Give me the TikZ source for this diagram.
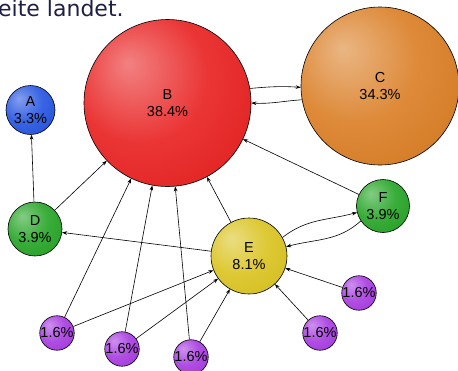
\documentclass[tikz,border=0pt]{standalone}
\usepackage{fontspec}
\newfontfamily\ballfont{Liberation Sans}
\newfontfamily\slidefont{DejaVu Sans}
\usetikzlibrary{arrows.meta, positioning}
\usepackage{xcolor}
\definecolor{ballBlue}{HTML}{1E4FE0}
\definecolor{ballRed}{HTML}{E81A1A}
\definecolor{ballOrange}{HTML}{D97A1E}
\definecolor{ballGreen}{HTML}{1FA21F}
\definecolor{ballYellow}{HTML}{D9C21A}
\definecolor{ballPurple}{HTML}{A536E0}
\definecolor{slideText}{HTML}{1F1F45}
\colorlet{ballbase}{ballRed}
\pgfdeclareradialshading[ballbase]{softball}{\pgfqpoint{-12bp}{12bp}}{%
  color(0bp)=(ballbase!55!white);
  color(20bp)=(ballbase!88!white);
  color(45bp)=(ballbase!95!black);
  color(65bp)=(ballbase!85!black)}
\tikzstyle{pnode} = [%
  circle,
  draw=black,
  line width=0.6pt,
  shading=softball,
  align=center,
  text=black,
  inner sep=0pt,
  font=\ballfont\fontsize{14.5}{17}\selectfont
]

\begin{document}
\begin{tikzpicture}[%
  x=1pt, y=1pt,
  ball/.style={/utils/exec={\colorlet{ballbase}{#1}}},
  link/.style={%
    -{Stealth[length=5pt,width=3.6pt]},
    line width=0.6pt
  }
]
  \useasboundingbox (0,0) rectangle (458,-370);

  % Slide text
  \node[anchor=base west,inner sep=0pt,text=slideText,font=\slidefont\fontsize{22}{26}\selectfont] (caption) at (-2,-16) {eite landet.};

  % Nodes
  \node[pnode,ball=ballRed,minimum size=167pt] (B) at (167.5,-103) {B\\38.4\%};
  \node[pnode,ball=ballOrange,minimum size=158pt] (C) at (380,-86) {C\\34.3\%};
  \node[pnode,ball=ballBlue,minimum size=49pt] (A) at (30.5,-110) {A\\3.3\%};
  \node[pnode,ball=ballGreen,minimum size=54pt] (D) at (35,-229) {D\\3.9\%};
  \node[pnode,ball=ballYellow,minimum size=76pt] (E) at (249,-256) {E\\8.1\%};
  \node[pnode,ball=ballGreen,minimum size=53pt] (F) at (383,-206) {F\\3.9\%};
  \node[pnode,ball=ballPurple,minimum size=34pt] (P1) at (57,-333) {1.6\%};
  \node[pnode,ball=ballPurple,minimum size=34pt] (P2) at (122,-349) {1.6\%};
  \node[pnode,ball=ballPurple,minimum size=34pt] (P3) at (191,-357) {1.6\%};
  \node[pnode,ball=ballPurple,minimum size=34pt] (P4) at (359,-293) {1.6\%};
  \node[pnode,ball=ballPurple,minimum size=34pt] (P5) at (320,-333) {1.6\%};

  % Edges
  \draw[link] (D) -- (A);
  \draw[link] (D) -- (B);
  \draw[link] (E) -- (D);
  \draw[link] (E) -- (B);
  \draw[link] (F) -- (B);
  \draw[link] (B.10) to[out=5,in=176] (C.181);
  \draw[link] (C.190) to[out=184,in=-3] (B.0);
  \draw[link] (E.29) to[out=38,in=195] (F.194);
  \draw[link] (F.214) to[out=222,in=15] (E.14);
  \draw[link] (P1) -- (B);
  \draw[link] (P1) -- (E);
  \draw[link] (P2) -- (B);
  \draw[link] (P2) -- (E);
  \draw[link] (P3) -- (B);
  \draw[link] (P3) -- (E);
  \draw[link] (P4) -- (E);
  \draw[link] (P5) -- (E);

\end{tikzpicture}
\end{document}
